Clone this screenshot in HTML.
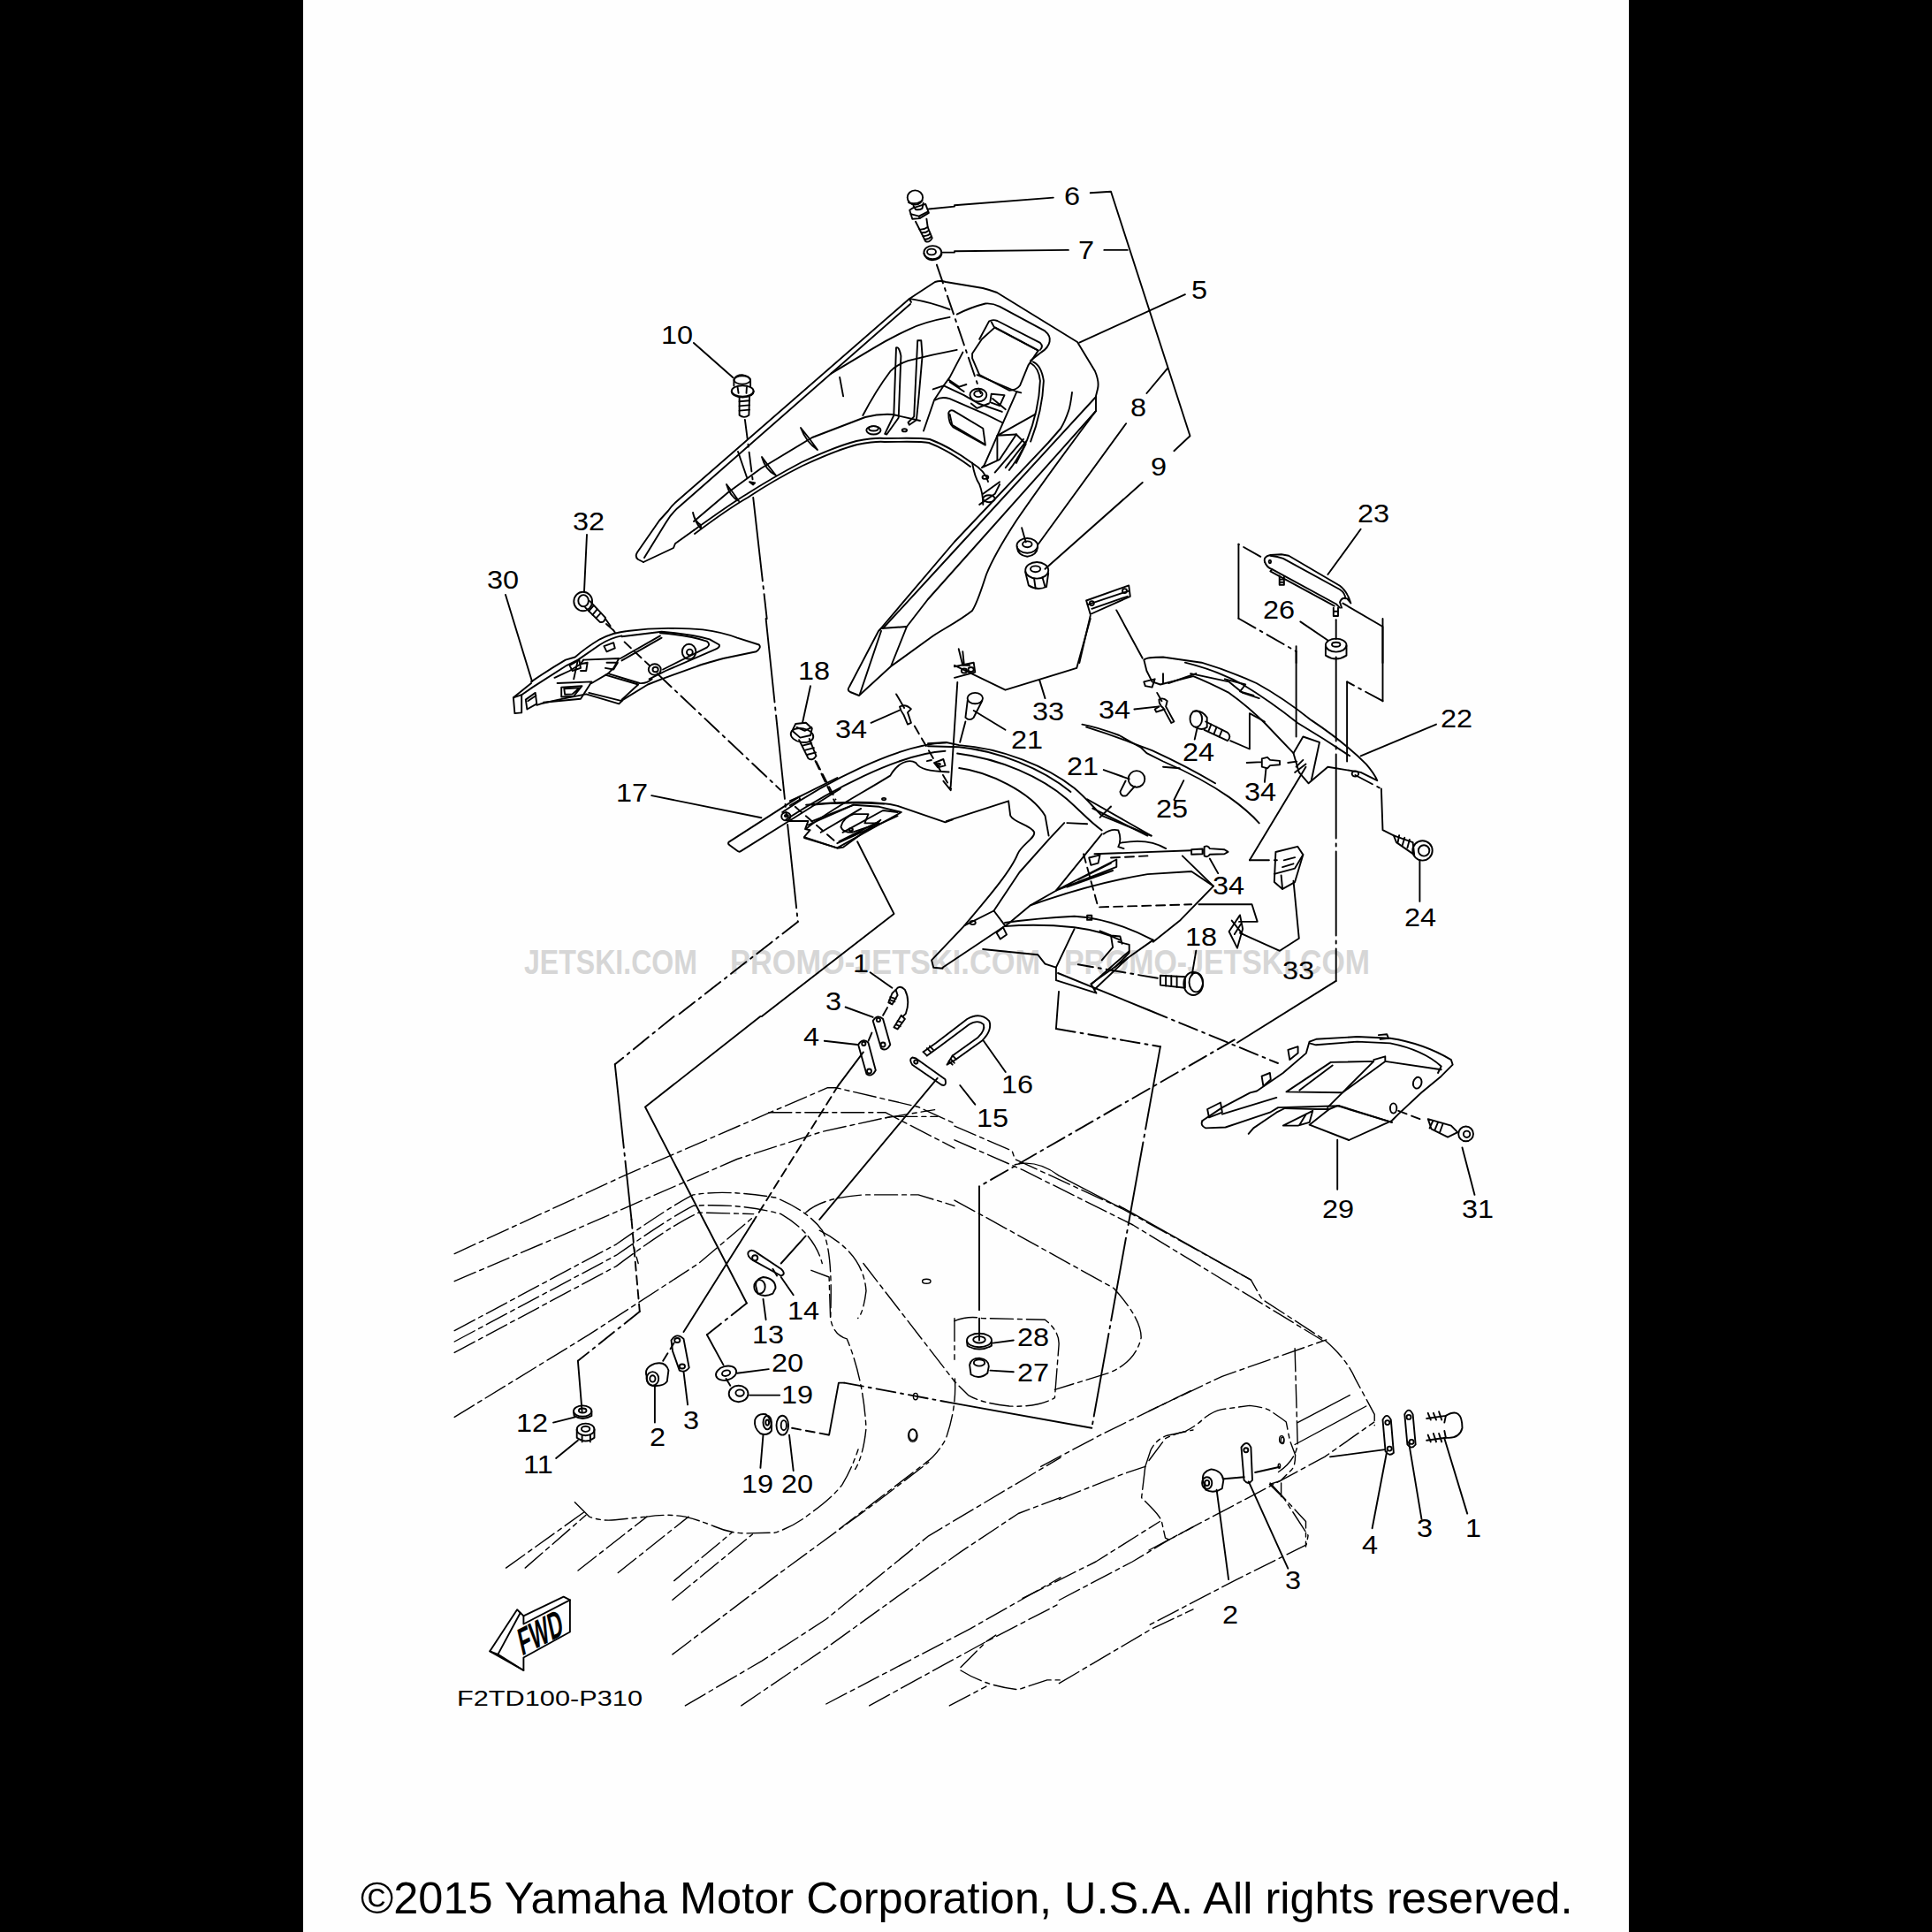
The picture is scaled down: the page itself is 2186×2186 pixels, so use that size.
<!DOCTYPE html>
<html><head><meta charset="utf-8"><style>
html,body{margin:0;padding:0;background:#000;width:2186px;height:2186px;overflow:hidden}
svg{position:absolute;left:0;top:0;display:block}
text{font-family:"Liberation Sans",sans-serif;fill:#000}
</style></head><body>
<svg width="2186" height="2186" viewBox="0 0 2186 2186">
<rect x="0" y="0" width="343" height="2186" fill="#000"/>
<rect x="343" y="0" width="1500" height="2186" fill="#fefefe"/>
<g fill="none" stroke="#000" stroke-width="1.9" stroke-linejoin="round" stroke-linecap="round">
<g stroke="none" fill="#d6d6d6" font-family="Liberation Sans" font-weight="bold">
<text x="593" y="1102" font-size="39" textLength="196" lengthAdjust="spacingAndGlyphs" style="fill:#d6d6d6">JETSKI.COM</text>
<text x="826" y="1102" font-size="39" textLength="351" lengthAdjust="spacingAndGlyphs" style="fill:#d6d6d6">PROMO-JETSKI.COM</text>
<text x="1204" y="1102" font-size="39" textLength="346" lengthAdjust="spacingAndGlyphs" style="fill:#d6d6d6">PROMO-JETSKI.COM</text>
</g>

<path d="M572,673 L602,771"/>
<path d="M664,605 L661,669"/>
<ellipse cx="659.7" cy="680.5" rx="10.4" ry="10.8" transform="rotate(0 659.7 680.5)"/>
<ellipse cx="660.1" cy="679.7" rx="5.8" ry="6.6" transform="rotate(0 660.1 679.7)"/>
<path d="M662.2 687.4L678.8 703.9Q683.9 705.0 685.0 698.8L667.4 680.1"/>
<path d="M666.3 691.5L671.5 685.3M670.5 695.7L675.7 689.4M674.6 699.2L679.8 693.6"/>
<path d="M686.0 706.0L696.4 715.3" stroke-dasharray="10 6"/>
<path d="M601.1 771.4Q621.2 757.5 639.9 746.6L650.7 743.5Q663.2 732.6 678.7 723.3Q694.2 715.5 709.8 714.0Q733.0 710.9 756.3 710.9Q779.6 710.9 795.2 712.4Q818.4 715.5 834.0 721.7L858.8 729.5Q861.9 732.6 855.7 737.3L818.4 745.0Q795.2 751.2 787.4 754.3L748.6 768.3L733.0 774.5L705.1 791.6L700.4 796.3L663.2 785.4L632.1 791.6L611.9 796.3L607.3 797.8"/>
<path d="M580.9 789.3L590.2 786.2L590.2 806.4L582.4 807.1Z"/>
<path d="M580.9 789.3L601.1 773.0M590.2 786.2L602.6 777.6L641.4 752.8Q647.6 749.7 653.9 746.6L678.7 729.5Q691.1 721.7 703.5 719.4"/>
<path d="M594.8 791.6L605.7 783.9L607.3 796.3L596.4 802.5ZM597.2 793.2L606.5 787.0"/>
<path d="M703.5 720.2L748.6 714.8Q779.6 717.1 802.9 723.3L813.8 729.5Q814.6 732.6 810.7 734.2L753.2 759.0L734.6 768.3"/>
<path d="M747.0 716.3Q779.6 718.6 799.8 725.6Q804.5 729.5 799.8 732.6L750.1 757.5"/>
<path d="M660.1 746.6L700.4 745.0L694.2 755.9L688.0 762.1L723.7 773.0Q731.5 773.8 737.7 768.3"/>
<path d="M702.0 745.0L747.0 719.4M703.5 747.4L748.6 721.7"/>
<path d="M627.5 766.8L644.5 759.0L657.0 751.2L660.1 746.6"/>
<path d="M630.6 773.0L669.4 771.4L657.0 790.8L615.0 794.7"/>
<path d="M635.2 777.6L658.5 776.1L649.2 787.7L635.2 788.5ZM638.3 779.2L655.4 778.4L647.6 785.4L639.1 785.7Z"/>
<path d="M669.4 773.0L688.0 762.1M666.3 783.9L703.5 793.2M649.2 768.3L653.9 746.6"/>
<path d="M684.9 763.7L722.2 774.5L703.5 791.6"/>
<path d="M644.5 752.8L655.4 746.6L657.0 755.9L647.6 759.0ZM683.4 731.1L694.2 727.2L695.8 733.4L686.5 737.3ZM657.0 751.2L664.7 749.7L663.2 759.0L657.0 759.0M686.5 749.7L698.9 749.7L694.2 757.5L684.9 755.9"/>
<ellipse cx="740.8" cy="757.5" rx="7.0" ry="6.2" transform="rotate(0 740.8 757.5)"/>
<ellipse cx="741.6" cy="757.5" rx="3.1" ry="2.8" transform="rotate(0 741.6 757.5)"/>
<ellipse cx="779.6" cy="737.3" rx="7.8" ry="8.5" transform="rotate(0 779.6 737.3)"/>
<ellipse cx="780.4" cy="738.0" rx="3.4" ry="3.4" transform="rotate(0 780.4 738.0)"/>
<path d="M684.9 700.0L695.8 715.5" stroke-dasharray="10 6"/>
<path d="M706.6 726.4L734.6 752.8" stroke-dasharray="10 6"/>
<!-- part 5 rear deck -->
<path d="M728,636 L722,633 Q718,630 721,625 L746,589 L756,578 Q760,572 766,567 L1029,338 L1058,319 Q1064,317 1070,319 L1112,326 Q1120,328 1128,331 L1219,387 L1239,420 Q1244,432 1242,440 L1240,448 L1240,465 C1225,485 1185,538 1150,589 C1135,612 1122,635 1116,650 C1110,668 1106,682 1100,691 C1085,703 1065,713 1055,720 L1008,754 L972,787 L962,783 Q958,781 961,777 L994,714 L997,711 L1026,709 L1008,754"/>
<path d="M729,631 L753,592 Q760,580 770,572 L1030,344"/>
<path d="M1029,338 L1031,342"/>
<path d="M728,636 L762,620 L764,615 L785,600"/>
<path d="M785,600 C810,582 830,568 845,559 C870,543 890,532 907,523 C935,510 950,504 969,499 C985,496 993,495 1000,496 C1020,496 1040,495 1052,497 C1068,503 1085,513 1100,524 C1110,530 1116,537 1118,545"/>
<path d="M786,604 C810,586 830,572 846,563 C870,547 890,536 908,527 C936,514 951,508 970,503 C986,500 994,499 1001,500 C1021,500 1041,499 1051,501 C1067,507 1083,517 1098,528"/>
<path d="M785,590 L824,557 L861,530 L919,495 L979,472 Q995,468 1010,469 L1041,476"/>
<path d="M784,580 Q786,590 793,594 L793,598 Q787,592 784,580 Z"/>
<path d="M822,548 Q826,562 836,567 Q830,558 822,548 Z"/>
<path d="M862,517 Q866,532 878,538 Q870,528 862,517 Z"/>
<path d="M906,484 Q912,500 925,509 Q916,496 906,484 Z"/>
<path d="M835,511 L845,540"/>
<path d="M1213,444 Q1211,460 1209,465 Q1205,477 1200,485 L1186,501 L1080,613 L995,713"/>
<path d="M1240,449 L1080,623 L999,711"/>
<path d="M973,785 L997,714"/>
<path d="M1240,465 L1050,678 L1026,709"/>
<path d="M940.0 422.9L987.1 394.6Q1007.3 382.5 1027.5 373.1Q1045.0 364.3 1074.6 358.9"/>
<path d="M1030.2 338.1Q1054.4 342.1 1074.6 350.2"/>
<path d="M1082.7 355.6Q1098.8 347.5 1114.9 343.5Q1123.0 342.8 1131.1 346.8L1182.2 374.4Q1189.0 379.8 1187.6 386.5Q1186.3 393.3 1178.2 398.6L1166.1 408.1"/>
<path d="M1108.2 383.8L1119.0 363.6Q1123.0 361.0 1128.4 363.0L1176.9 387.9Q1180.9 391.9 1176.9 395.9"/>
<path d="M1121.7 364.3L1125.0 370.4L1174.8 396.6"/>
<path d="M1100.1 400.0L1110.9 383.8L1125.7 370.4L1174.8 396.6L1163.4 413.4L1154.0 436.3Q1149.9 441.7 1141.9 441.7L1108.2 424.2L1100.1 405.4Z"/>
<path d="M1014.0 393.3Q1017.4 391.9 1019.4 402.7L1016.7 472.7L1003.3 491.5L1001.2 490.8L1011.3 470.0Z"/>
<path d="M1038.2 385.2L1042.3 385.2L1043.6 402.7L1039.6 448.4L1036.9 475.3L1028.8 480.7L1027.5 478.0L1034.2 471.3Z"/>
<path d="M976.3 470.0Q991.1 441.7 1007.3 420.2Q1015.4 412.1 1027.5 408.1Q1054.4 401.3 1082.7 395.9"/>
<path d="M1045.0 487.5L1057.1 452.5L1067.8 436.3L1074.6 426.9L1089.4 398.6"/>
<path d="M1055.7 440.4L1067.8 436.3L1090.7 447.1L1106.9 456.5L1133.8 465.9"/>
<path d="M1058.4 452.5Q1065.2 448.4 1074.6 451.1L1114.9 468.6L1133.8 478.0"/>
<path d="M1073.2 467.3Q1074.6 463.2 1078.6 464.6L1112.3 484.8L1114.9 503.6L1078.6 483.4Q1073.2 479.4 1073.2 467.3Z"/>
<path d="M1074.6 468.6L1077.3 480.7L1113.6 502.3"/>
<path d="M1105.5 424.2L1149.9 443.0L1155.3 444.4"/>
<path d="M1073.2 429.6L1085.3 437.7L1093.4 435.0M1074.6 432.3L1090.7 443.0M1121.7 445.7L1136.5 447.1L1131.1 459.2L1120.3 455.2ZM1123.0 451.1L1137.8 463.2M1098.8 456.5L1105.5 461.9L1119.0 456.5"/>
<path d="M1166.1 410.7Q1175.5 416.1 1176.9 430.9Q1175.5 464.6 1162.0 498.2Q1152.6 518.4 1141.9 531.9"/>
<path d="M1168.8 409.4Q1178.2 413.4 1180.9 430.9Q1179.5 464.6 1166.1 499.6"/>
<path d="M1149.9 444.4L1113.6 526.5L1110.9 529.2L1131.1 519.8L1149.9 491.5"/>
<path d="M1149.9 491.5L1160.7 502.3L1149.9 523.8"/>
<path d="M1171.5 468.6L1128.4 492.8L1128.4 521.1M1128.4 492.8L1149.9 491.5"/>
<path d="M1125.7 534.6L1158.0 496.9M1137.8 529.2L1160.7 499.6"/>
<path d="M1108.2 570.9L1125.7 558.8L1131.1 548.0M1112.3 558.8L1131.1 545.3"/>
<path d="M1100.1 523.8Q1102.8 539.9 1108.2 548.0Q1112.3 558.8 1112.3 570.9"/>
<ellipse cx="988.4" cy="486.8" rx="8.1" ry="4.7" transform="rotate(0 988.4 486.8)"/>
<ellipse cx="988.4" cy="484.8" rx="5.4" ry="2.7" transform="rotate(0 988.4 484.8)"/>
<ellipse cx="1023.4" cy="486.8" rx="2.7" ry="1.6" transform="rotate(0 1023.4 486.8)"/>
<ellipse cx="1106.9" cy="447.1" rx="9.4" ry="7.4" transform="rotate(0 1106.9 447.1)"/>
<ellipse cx="1106.9" cy="445.7" rx="4.7" ry="3.4" transform="rotate(0 1106.9 445.7)"/>
<ellipse cx="1114.9" cy="539.9" rx="3.4" ry="2.0" transform="rotate(0 1114.9 539.9)"/>
<ellipse cx="1119.0" cy="564.2" rx="6.7" ry="4.0" transform="rotate(0 1119.0 564.2)"/>
<path d="M950.1 426.9L954.1 448.4"/>
<path d="M784.9 388.0L829.4 427.3"/>
<path d="M830.4 436.6L830.4 429.4Q832.5 424.2 839.8 424.2Q848.0 425.3 849.1 430.4L849.1 437.7"/>
<ellipse cx="839.8" cy="430.0" rx="9.3" ry="4.6" transform="rotate(0 839.8 430.0)"/>
<ellipse cx="840.2" cy="442.4" rx="12.4" ry="6.2" transform="rotate(0 840.2 442.4)"/>
<path d="M827.7 442.9Q828.4 449.1 840.2 449.5Q852.2 449.1 852.8 442.9"/>
<path d="M834.6 438.3L835.6 444.9M844.9 438.3L844.5 444.9"/>
<path d="M836.6 449.1L836.6 469.8Q841.8 473.9 847.4 469.8L848.0 449.1"/>
<path d="M836.6 454.2L848.0 453.2M836.6 459.4L848.0 458.4M836.6 464.6L848.0 463.6"/>
<path d="M842.9 474.9L852.2 547.4" stroke-dasharray="22 6 3 6"/>
<path d="M852.2 562.9L867.7 700.0" stroke-dasharray="95 6 3 6"/>
<path d="M848.0 545.3L854.2 546.4L852.2 548.4Z"/>
<path d="M1080.0 232.3L1191.8 223.6"/>
<path d="M1233.7 218.3L1257.0 216.8L1346.5 493.2L1328.4 510.2"/>
<path d="M1080.0 284.2L1208.9 282.9M1249.3 282.9L1275.7 282.9"/>
<path d="M1221.3 387.6L1340.9 333.2"/>
<path d="M1274.1 479.2L1174.7 615.8M1297.4 445.0L1320.7 417.1"/>
<path d="M1292.7 546.0L1182.5 643.8"/>
<ellipse cx="1162.3" cy="617.4" rx="11.8" ry="8.4" transform="rotate(0 1162.3 617.4)"/>
<ellipse cx="1162.3" cy="615.8" rx="5.3" ry="3.4" transform="rotate(0 1162.3 615.8)"/>
<path d="M1150.8 618.9Q1151.4 628.3 1162.3 629.8Q1173.2 628.3 1174.1 618.9"/>
<path d="M1156.1 597.2L1160.7 613.4"/>
<ellipse cx="1173.2" cy="645.3" rx="13.0" ry="9.3" transform="rotate(0 1173.2 645.3)"/>
<ellipse cx="1171.6" cy="643.8" rx="5.6" ry="3.4" transform="rotate(0 1171.6 643.8)"/>
<path d="M1160.1 646.9L1163.9 662.4Q1173.2 668.6 1184.0 664.0L1186.2 648.4"/>
<path d="M1170.1 654.7L1171.6 665.5M1179.4 653.1L1182.5 664.0"/>
<path d="M1229.1 679.5L1277.2 662.4L1278.8 674.8L1233.7 695.0Z"/>
<path d="M1230.6 684.2L1277.2 668.6M1235.3 688.8L1275.7 674.8"/>
<circle cx="1235.3" cy="682.6" r="2.5"/>
<circle cx="1272.5" cy="668.6" r="2.5"/>
<path d="M1233.7 696.6L1221.3 750.0M1263.2 690.4L1292.7 744.7"/>
<path d="M1539.6 598.8L1502.4 650.0"/>
<path d="M1431.1 635.9Q1429.1 629.7 1437.3 628.0L1449.8 627.2L1458.1 628.7L1516.0 662.8Q1524.3 669.0 1528.4 682.5L1524.3 677.3Q1518.1 675.2 1516.0 681.4L1518.1 687.7"/>
<path d="M1431.1 635.9Q1433.2 642.1 1439.4 644.2L1511.9 683.5L1516.0 687.7"/>
<path d="M1439.4 644.2L1437.3 646.3L1509.8 685.6"/>
<path d="M1437.3 628.7Q1445.6 629.7 1451.8 631.8L1516.0 667.0Q1522.2 671.1 1522.2 677.3"/>
<path d="M1447.7 651.4L1447.7 661.8L1452.9 661.8L1452.9 652.5M1447.7 655.6L1452.9 655.6M1447.7 658.7L1452.9 658.7"/>
<path d="M1508.8 687.7L1508.8 697.0L1514.0 697.0L1514.0 687.7M1508.8 691.8L1514.0 691.8"/>
<ellipse cx="1436.9" cy="635.5" rx="1.2" ry="1.7" transform="rotate(0 1436.9 635.5)"/>
<path d="M1471.3 703.4L1502.4 724.5"/>
<ellipse cx="1511.7" cy="730.1" rx="11.8" ry="7.5" transform="rotate(0 1511.7 730.1)"/>
<ellipse cx="1511.7" cy="729.2" rx="4.7" ry="2.5" transform="rotate(0 1511.7 729.2)"/>
<path d="M1499.9 730.7L1499.9 741.6Q1511.7 749.4 1523.5 741.6L1523.5 730.7"/>
<path d="M1511.7 701.2L1511.7 723.0"/>
<path d="M1426.3 629.8L1401.4 615.8" stroke-dasharray="22 6 3 6"/>
<path d="M1401.4 615.8L1401.4 699.7"/>
<path d="M1401.4 699.7L1466.6 737.0" stroke-dasharray="22 6 3 6"/>
<path d="M1466.6 737.0L1466.6 750.0"/>
<path d="M1519.4 682.6L1564.5 709.0L1564.5 750.0"/>
<ellipse cx="1035.4" cy="223.5" rx="8.7" ry="8.1" transform="rotate(0 1035.4 223.5)"/>
<path d="M1028.0 229.1Q1035.4 232.2 1043.5 227.2"/>
<path d="M1033.5 232.8L1036.0 237.1Q1040.4 237.8 1043.5 235.9L1044.7 229.7"/>
<path d="M1029.2 237.8L1032.9 235.3L1047.2 230.9L1050.9 240.9L1040.4 247.1L1032.3 247.7Z"/>
<path d="M1030.4 242.1L1039.8 244.6L1049.7 239.6M1039.8 244.6L1040.4 247.1"/>
<path d="M1036.0 250.8L1040.4 259.5Q1045.3 260.1 1049.7 257.0L1048.4 247.7"/>
<path d="M1040.4 259.5L1047.2 273.2Q1051.6 275.0 1054.7 269.4L1049.7 257.0"/>
<path d="M1042.9 263.2Q1047.2 263.9 1050.9 260.7M1044.4 267.0Q1049.1 267.6 1052.5 264.5M1046.0 270.7Q1050.3 271.3 1053.7 267.6"/>
<path d="M1050.9 236.5L1080.0 233.6"/>
<ellipse cx="1055.3" cy="285.6" rx="9.9" ry="7.5" transform="rotate(0 1055.3 285.6)"/>
<ellipse cx="1054.0" cy="285.0" rx="5.0" ry="3.4" transform="rotate(0 1054.0 285.0)"/>
<path d="M1045.3 286.8Q1047.2 293.7 1054.7 294.3Q1064.0 293.7 1065.5 287.5"/>
<path d="M1065.8 285.6L1080.0 285.6"/>
<path d="M1059.9 299.6L1109.6 445.0" stroke-dasharray="22 6 3 6"/>
<path d="M917.0 776.3L908.0 817.8"/>
<path d="M896.3 826.8L900.2 819.0L911.9 817.8L918.8 824.2L917.0 832.0L905.4 834.6Z"/>
<ellipse cx="907.5" cy="832.0" rx="12.9" ry="7.8" transform="rotate(10 907.5 832.0)"/>
<path d="M901.5 822.9L910.6 826.8L918.3 822.9"/>
<path d="M904.1 837.2L914.4 857.9Q919.6 861.7 923.5 855.3L915.7 835.9"/>
<path d="M908.0 843.6L918.3 841.0M910.6 848.8L920.9 846.2M913.1 854.0L923.0 851.4"/>
<path d="M923.5 861.7L945.5 904.5" stroke-dasharray="10 6"/>
<path d="M985.6 817.8L1018.0 803.5"/>
<path d="M1014.1 785.4L1023.1 800.9"/>
<path d="M1018.0 799.6Q1024.4 795.8 1030.9 802.2L1027.0 806.1L1030.9 817.8L1027.0 819.6L1022.4 808.7Q1018.7 803.5 1018.0 799.6Z"/>
<path d="M1034.8 821.6L1076.2 892.8" stroke-dasharray="10 6"/>
<path d="M737.2 900.1L861.4 925.2"/>
<path d="M866.6 700.0L889.9 922.6" stroke-dasharray="95 6 3 6"/>
<path d="M891.1 932.9L902.8 1042.9" stroke-dasharray="95 6 3 6"/>
<path d="M902.8 1042.9L765.1 1150.1" stroke-dasharray="22 6 3 6"/>
<path d="M743.6 762.1L883.4 894.1" stroke-dasharray="22 6 3 6"/>
<path d="M970.1 952.3L1011.5 1033.9L861.9 1150.1"/>
<path d="M885.2 919.0C932.8 885.9 1015.6 842.4 1069.5 840.4"/>
<path d="M889.3 927.3C937.0 896.3 1015.6 852.8 1069.5 849.7"/>
<path d="M912.1 910.7C953.5 906.6 994.9 906.6 1015.6 911.8L1069.5 930.4L1077.7 927.3"/>
<path d="M912.1 937.7C937.0 917.0 974.2 898.3 1007.3 877.6C1015.6 863.1 1028.1 858.0 1036.3 863.1C1040.5 870.4 1050.8 872.4 1073.6 873.5"/>
<path d="M1048.8 861.1L1053.9 860.0M1057.0 863.1L1067.4 859.0L1069.5 866.2L1061.2 868.3Z"/>
<ellipse cx="1062.2" cy="864.8" rx="1.7" ry="1.2" transform="rotate(0 1062.2 864.8)"/>
<path d="M947.4 880.0L904.1 901.6L824.4 952.9Q823.3 954.6 825.5 956.3L834.7 963.1Q836.4 964.3 838.1 963.1L892.7 929.0L950.8 892.5"/>
<path d="M893.9 906.2L904.1 901.6L905.3 904.5L893.9 911.3"/>
<ellipse cx="889.3" cy="923.8" rx="5.1" ry="4.6" transform="rotate(0 889.3 923.8)"/>
<ellipse cx="889.9" cy="923.0" rx="2.0" ry="1.1" transform="rotate(0 889.9 923.0)"/>
<path d="M892.7 929.0L914.4 929.0L911.0 938.1L916.6 939.2L909.8 947.2L947.4 959.7L954.2 958.6L996.4 927.8"/>
<path d="M918.9 910.7Q950.8 907.3 1000.0 909.6"/>
<path d="M910.0 948.0L947.3 959.4L1019.8 919.0L994.9 912.8L965.9 910.7L918.3 929.4"/>
<path d="M914.2 933.5L965.9 910.7M928.7 941.8L974.2 914.9M953.5 941.8L999.1 917.0L1015.6 919.0"/>
<path d="M951.4 935.6Q953.5 925.2 965.9 921.1L982.5 921.1L978.4 931.4L994.9 931.4L963.9 941.8Q953.5 941.8 951.4 935.6Z"/>
<ellipse cx="962.8" cy="938.7" rx="2.1" ry="1.4" transform="rotate(0 962.8 938.7)"/>
<path d="M947.3 954.2L1015.6 923.2M949.4 952.2L994.9 929.4"/>
<path d="M899.7 912.8L945.2 952.2" stroke-dasharray="10 6"/>
<ellipse cx="1000.1" cy="904.1" rx="2.1" ry="1.2" transform="rotate(0 1000.1 904.1)"/>
<path d="M1083.3 772.0L1075.7 890.0"/>
<path d="M1067.4 883.8L1075.7 894.2"/>
<path d="M922.5 861.1L945.2 908.7" stroke-dasharray="10 6"/>
<path d="M984.6 1100.2L1009.4 1117.8"/>
<path d="M1013.6 1119.9Q1017.7 1113.6 1023.9 1119.9Q1030.1 1132.3 1024.9 1146.8L1021.8 1149.9"/>
<path d="M1013.6 1119.9L1015.6 1126.1L1009.4 1136.4L1005.3 1134.3L1009.4 1124.0Z"/>
<path d="M1007.3 1128.1L1013.6 1130.2M1006.3 1131.2L1012.5 1133.3"/>
<path d="M1019.8 1148.8L1023.9 1153.0L1015.6 1164.4L1011.5 1162.3ZM1015.6 1155.1L1020.8 1157.1M1013.6 1159.2L1018.7 1161.3"/>
<path d="M956.6 1139.5L987.7 1150.9"/>
<path d="M987.7 1155.1Q992.9 1146.8 999.1 1153.0L1007.3 1182.0Q1003.2 1190.2 997.0 1186.1Z"/>
<circle cx="993.9" cy="1154.0" r="2.1"/>
<circle cx="999.1" cy="1182.0" r="2.5"/>
<path d="M932.8 1177.8L970.1 1182.0"/>
<path d="M971.1 1182.0Q976.3 1173.7 982.5 1179.9L990.8 1211.0Q986.6 1219.2 980.4 1215.1Z"/>
<circle cx="977.3" cy="1180.9" r="2.1"/>
<circle cx="983.5" cy="1212.0" r="2.5"/>
<path d="M999.1 1148.8L1007.3 1134.3" stroke-dasharray="10 6"/>
<path d="M982.5 1177.8L988.7 1163.3" stroke-dasharray="10 6"/>
<path d="M1044.6 1190.2L1059.1 1179.9L1094.3 1153.0Q1108.8 1144.7 1119.2 1155.1Q1123.3 1165.4 1110.9 1177.8L1081.9 1198.5"/>
<path d="M1048.8 1194.4L1063.3 1184.0L1096.4 1159.2Q1106.7 1153.0 1112.9 1159.2Q1115.0 1165.4 1106.7 1173.7L1077.7 1194.4"/>
<path d="M1044.6 1190.2L1048.8 1194.4M1071.5 1204.7L1081.9 1198.5L1077.7 1194.4L1071.5 1204.7Z"/>
<path d="M1048.8 1186.1L1052.9 1190.2M1051.9 1183.6L1056.0 1187.8M1073.6 1200.6L1077.7 1204.7M1075.7 1198.5L1079.8 1202.7"/>
<path d="M1112.9 1177.8L1137.8 1213.0"/>
<path d="M1032.2 1196.5Q1028.1 1198.5 1032.2 1204.7L1065.3 1227.5Q1071.5 1229.6 1069.5 1221.3L1036.3 1197.5Z"/>
<circle cx="1036.3" cy="1201.6" r="2.1"/>
<path d="M1050.0 841.1L1070.7 840.0L1085.2 843.1C1132.8 846.3 1184.6 867.0 1215.6 891.8C1228.1 902.2 1236.3 912.5 1246.7 922.9L1302.6 945.6"/>
<path d="M1050.0 844.2L1085.2 845.2C1128.7 849.4 1178.4 869.0 1211.5 895.9"/>
<path d="M1083.1 852.5C1132.8 858.7 1178.4 879.4 1207.3 904.2C1226.0 920.8 1232.2 929.1 1246.7 939.4"/>
<path d="M1085.2 869.0C1118.3 873.2 1165.9 895.9 1182.5 922.9L1186.6 945.6"/>
<path d="M1230.1 904.2L1302.6 945.6M1248.8 920.8L1298.4 945.6M1236.3 914.6L1257.0 924.9"/>
<path d="M1070.7 929.1L1141.1 906.3L1143.2 922.9C1147.3 931.1 1165.9 933.2 1170.1 941.5C1172.2 947.7 1155.6 956.0 1151.4 966.3C1143.2 987.0 1112.1 1022.2 1091.4 1047.1L1054.1 1086.4L1056.2 1094.7L1066.6 1095.7"/>
<path d="M1207.3 931.1L1230.1 932.2"/>
<path d="M1204.2 931.1L1186.6 949.8L1153.5 987.0L1124.5 1030.5L1091.4 1047.1"/>
<path d="M1246.7 943.6L1194.9 1007.7L1165.9 1024.3L1141.1 1045.0L1066.6 1094.7"/>
<path d="M1124.5 1030.5L1137.0 1047.1"/>
<ellipse cx="1100.7" cy="1044.0" rx="3.1" ry="2.1" transform="rotate(0 1100.7 1044.0)"/>
<path d="M1127.6 1055.4L1134.9 1049.2L1139.0 1057.4L1131.8 1062.6Z"/>
<path d="M1194.9 1007.7L1263.3 972.5L1263.3 980.8ZM1219.8 995.3L1257.0 976.7M1207.3 1003.6L1259.1 985.0"/>
<path d="M1232.2 970.5L1244.6 967.4L1242.5 976.7L1234.3 978.8Z"/>
<path d="M1248.8 943.6Q1257.0 937.3 1265.3 939.4Q1269.5 949.8 1265.3 958.1L1271.5 960.1"/>
<path d="M1267.4 953.9Q1298.4 947.7 1319.2 960.1"/>
<path d="M1165.9 1024.3Q1236.3 999.5 1298.4 989.1L1348.1 986.0L1373.0 1002.6L1335.7 1040.9L1304.7 1065.7"/>
<path d="M1337.8 968.4L1373.0 1002.6"/>
<path d="M1257.0 970.5L1298.4 968.4" stroke-dasharray="10 6"/>
<path d="M1238.4 966.3L1348.1 962.2"/>
<path d="M1348.1 961.2L1360.6 960.5L1360.6 966.3L1348.1 966.7ZM1362.6 958.1Q1366.8 956.0 1368.8 960.1L1385.4 961.2L1389.5 963.9L1385.4 966.3L1368.8 966.7Q1366.8 970.5 1362.6 968.4Z"/>
<path d="M1368.8 971.5L1378.2 988.1"/>
<path d="M1226.0 966.3L1242.5 1026.4L1348.1 1023.3" stroke-dasharray="10 6"/>
<path d="M1356.4 1023.3L1416.5 1023.3L1422.7 1042.9L1402.0 1042.9"/>
<path d="M1137.0 1044.0Q1174.2 1038.8 1215.6 1036.7Q1257.0 1038.8 1304.7 1063.6"/>
<path d="M1137.0 1048.1Q1174.2 1045.0 1215.6 1049.2Q1246.7 1053.3 1267.4 1063.6"/>
<path d="M1112.1 1074.0L1174.2 1080.2L1182.5 1090.6L1194.9 1094.7L1194.9 1109.2L1240.5 1123.7L1234.3 1113.3L1304.7 1063.6"/>
<path d="M1215.6 1051.2L1194.9 1094.7"/>
<path d="M1244.6 1053.3L1257.0 1058.5L1259.1 1071.9L1246.7 1086.4M1265.3 1065.7L1277.7 1068.8L1277.7 1078.1L1261.2 1094.7M1257.0 1058.5L1267.4 1059.5L1269.5 1067.8"/>
<path d="M1235.3 1113.3L1277.7 1076.1M1238.4 1119.5L1275.7 1084.3"/>
<path d="M1230.1 1035.7L1235.3 1035.7L1235.3 1040.9L1230.1 1040.9Z"/>
<path d="M1248.8 871.1L1277.7 881.4"/>
<path d="M1273.6 883.5L1267.4 895.9Q1268.4 902.2 1274.6 900.1L1284.0 889.7"/>
<circle cx="1286.0" cy="881.4" r="9.3"/>
<path d="M1257.0 912.5L1244.6 924.9"/>
<path d="M1080.0 752.8L1137.5 780.7L1218.2 755.9L1233.7 700.0M1176.3 769.9L1182.5 790.1"/>
<path d="M1080.0 754.3L1101.7 749.7L1103.3 760.6L1080.0 766.8"/>
<ellipse cx="1090.9" cy="759.0" rx="3.1" ry="2.5" transform="rotate(0 1090.9 759.0)"/>
<ellipse cx="1098.6" cy="757.5" rx="3.1" ry="2.5" transform="rotate(0 1098.6 757.5)"/>
<path d="M1084.7 734.2L1089.3 752.8L1097.1 752.8M1089.3 737.3L1090.9 752.8"/>
<path d="M1137.5 825.8L1101.7 804.0"/>
<ellipse cx="1103.3" cy="790.1" rx="8.7" ry="6.2" transform="rotate(0 1103.3 790.1)"/>
<path d="M1094.9 791.6L1092.4 811.8Q1097.1 816.5 1101.7 811.8L1111.1 793.2"/>
<path d="M1092.4 816.5L1086.2 839.8"/>
<path d="M1283.4 802.5L1311.4 799.4"/>
<path d="M1309.2 783.9L1314.5 793.2M1311.4 791.6Q1316.0 788.5 1320.7 793.2L1319.1 799.4L1328.4 816.5L1325.3 818.0L1316.0 800.9Q1311.4 797.8 1311.4 791.6Z"/>
<path d="M1311.4 799.4L1306.7 802.5L1308.3 805.6L1317.6 802.5"/>
<path d="M1294.3 746.6Q1297.4 743.5 1316.0 743.5L1359.5 749.7Q1390.6 759.0 1421.6 773.0Q1452.7 790.1 1483.7 814.9Q1521.0 839.8 1545.8 864.6Q1555.2 875.5 1558.3 883.2Q1545.8 877.0 1539.6 873.9L1502.4 867.7L1480.6 886.3L1469.8 873.9L1463.5 852.2L1430.9 818.0Q1412.3 799.4 1390.6 783.9Q1365.7 771.4 1350.2 765.2L1312.9 774.5L1303.6 771.4L1297.4 759.0Z"/>
<path d="M1340.9 749.7Q1378.1 759.0 1406.1 774.5Q1437.1 793.2 1468.2 818.0Q1499.3 836.6 1527.2 855.3"/>
<path d="M1347.1 762.1L1390.6 771.4L1406.1 783.9L1424.7 790.1"/>
<path d="M1385.9 768.3L1409.2 774.5L1403.0 782.3L1418.5 787.0"/>
<path d="M1463.5 852.2L1474.4 833.5L1493.0 839.8L1483.7 883.2"/>
<path d="M1465.1 873.9L1477.5 864.6M1466.6 867.7L1474.4 859.9"/>
<path d="M1294.3 771.4L1306.7 768.3L1303.6 777.6L1295.8 776.1Z"/>
<path d="M1316.0 762.1L1316.0 773.0M1353.3 762.1L1322.2 773.0"/>
<ellipse cx="1533.4" cy="875.5" rx="3.7" ry="3.1" transform="rotate(0 1533.4 875.5)"/>
<path d="M1539.6 855.3L1625.0 819.6"/>
<ellipse cx="1353.3" cy="813.4" rx="6.8" ry="9.3" transform="rotate(0 1353.3 813.4)"/>
<path d="M1350.2 805.0Q1359.5 802.5 1365.7 811.8L1365.7 822.7Q1359.5 827.3 1352.7 822.7"/>
<path d="M1364.2 816.5L1389.0 828.9Q1393.7 833.5 1389.0 838.2L1362.6 825.8"/>
<path d="M1370.4 819.6L1367.3 827.3M1376.6 822.7L1373.5 830.4M1382.8 825.8L1379.7 833.5"/>
<path d="M1354.8 822.7L1351.7 836.6"/>
<path d="M1392.1 838.2L1413.9 847.5L1413.9 807.1L1430.9 816.5"/>
<path d="M1410.7 863.0L1427.8 862.1M1427.8 858.4L1434.0 856.8L1437.1 859.9L1448.0 860.9L1448.0 865.2L1437.1 866.1L1434.0 869.3L1427.8 867.7Z"/>
<path d="M1432.5 869.3L1430.9 884.8"/>
<path d="M1457.3 863.0L1468.2 861.5" stroke-dasharray="10 6"/>
<path d="M1511.7 743.5L1511.7 1109.9" stroke-dasharray="95 6 3 6"/>
<path d="M1511.7 1109.9L1399.9 1179.8"/>
<path d="M1466.6 731.1L1466.6 833.5"/>
<path d="M1564.5 700.0L1564.5 793.2"/>
<path d="M1564.5 793.2L1524.1 771.4" stroke-dasharray="22 6 3 6"/>
<path d="M1524.1 771.4L1524.1 861.5"/>
<path d="M1533.4 877.0L1562.9 892.5" stroke-dasharray="22 6 3 6"/>
<path d="M1562.9 892.5L1564.5 939.1L1576.9 945.3"/>
<path d="M1477.5 867.7L1413.9 973.3"/>
<path d="M1413.9 973.3L1446.5 973.3" stroke-dasharray="22 6 3 6"/>
<path d="M1443.4 964.0L1468.2 957.8L1474.4 967.1L1465.1 998.1L1451.1 1005.9L1441.8 998.1Z"/>
<path d="M1441.8 988.8L1465.1 982.6L1474.4 967.1M1449.6 990.4L1451.1 1005.9"/>
<path d="M1452.7 973.3L1465.1 970.2M1451.1 981.1L1463.5 977.3"/>
<path d="M1463.5 996.6L1469.8 1061.8L1448.0 1075.8L1403.0 1055.6"/>
<path d="M1576.9 945.3L1598.6 953.1L1600.2 967.1L1580.0 953.1Z"/>
<path d="M1583.1 945.3L1581.6 953.1M1589.3 947.8L1586.8 956.2M1594.9 950.0L1592.4 959.3"/>
<circle cx="1609.5" cy="962.4" r="11.2"/>
<circle cx="1611.1" cy="962.4" r="6.2"/>
<path d="M1606.4 973.3L1606.4 1019.9"/>
<path d="M1224.4 819.6Q1241.5 822.7 1266.3 832.0L1291.2 846.0L1297.4 852.2L1316.0 861.5Q1359.5 880.1 1390.6 901.9Q1412.3 917.4 1424.7 931.4"/>
<path d="M1229.1 822.7Q1253.9 830.4 1278.8 839.8L1303.6 849.1Q1344.0 867.7 1375.0 886.3"/>
<path d="M1316.0 867.7L1334.7 869.3"/>
<path d="M1339.3 883.2L1328.4 905.0"/>
<path d="M1353.3 1075.8L1348.6 1103.7"/>
<path d="M1312.9 1103.7L1340.9 1105.3L1340.9 1117.7L1312.9 1114.6Z"/>
<path d="M1319.1 1103.7L1319.1 1115.5M1325.3 1104.3L1325.3 1116.1M1331.6 1104.7L1331.6 1116.8"/>
<ellipse cx="1350.2" cy="1113.0" rx="10.9" ry="13.0" transform="rotate(0 1350.2 1113.0)"/>
<ellipse cx="1353.3" cy="1111.5" rx="7.8" ry="10.9" transform="rotate(0 1353.3 1111.5)"/>
<path d="M1309.8 1106.8L1219.8 1091.3" stroke-dasharray="22 6 3 6"/>
<path d="M1390.6 1054.0L1403.0 1035.4L1406.1 1050.9L1399.9 1072.7ZM1393.7 1041.6L1406.1 1057.1M1396.8 1057.1L1404.5 1044.7"/>
<path d="M1086.2 1228.0L1103.3 1249.7"/>
<path d="M1197,1101 L1300,1143" />
<path d="M1300,1143 L1446,1203" stroke-dasharray="22 6 3 6"/>
<path d="M762.6 1150.0L695.8 1204.3" stroke-dasharray="22 6 3 6"/>
<path d="M695.8 1204.3L714.5 1379.8" stroke-dasharray="95 6 3 6"/>
<path d="M714.5 1379.8L723.8 1483.9" stroke-dasharray="10 6"/>
<path d="M723.8 1483.9L653.9 1539.8" stroke-dasharray="22 6 3 6"/>
<path d="M653.9 1539.8L658.6 1597.2"/>
<path d="M860.4 1150.0L730.0 1252.5L844.9 1474.5"/>
<path d="M844.9 1474.5L799.9 1510.2" stroke-dasharray="22 6 3 6"/>
<path d="M799.9 1510.2L818.5 1544.4"/>
<path d="M976.9 1190.4L948.9 1227.6"/>
<path d="M948.9 1227.6L852.7 1381.4" stroke-dasharray="10 6"/>
<path d="M852.7 1381.4L773.5 1507.1"/>
<path d="M1060.7 1219.9L927.2 1379.8"/>
<path d="M911.7 1398.4L883.7 1429.5"/>
<ellipse cx="659.2" cy="1596.6" rx="10.2" ry="6.2" transform="rotate(0 659.2 1596.6)"/>
<ellipse cx="659.2" cy="1596.0" rx="4.3" ry="2.5" transform="rotate(0 659.2 1596.0)"/>
<path d="M648.9 1597.2L649.6 1601.9Q659.2 1608.1 669.4 1601.9L669.4 1597.2"/>
<ellipse cx="662.6" cy="1617.4" rx="9.9" ry="6.8" transform="rotate(0 662.6 1617.4)"/>
<ellipse cx="662.6" cy="1616.8" rx="4.7" ry="3.1" transform="rotate(0 662.6 1616.8)"/>
<path d="M652.7 1617.4L652.7 1626.7Q662.6 1634.5 672.5 1626.7L672.5 1617.4M658.6 1623.6L658.6 1631.4M667.9 1623.6L667.9 1631.4"/>
<path d="M626.0 1609.6L650.8 1603.4M629.1 1650.0L653.9 1629.8"/>
<path d="M731.6 1556.8Q728.4 1547.5 740.9 1542.9Q753.3 1539.8 756.4 1550.6L754.8 1563.0Q750.2 1569.3 737.8 1567.7Q731.6 1566.1 731.6 1556.8Z"/>
<ellipse cx="738.4" cy="1559.9" rx="6.8" ry="7.8" transform="rotate(0 738.4 1559.9)"/>
<ellipse cx="738.4" cy="1559.9" rx="3.1" ry="3.7" transform="rotate(0 738.4 1559.9)"/>
<path d="M740.9 1569.3L740.9 1609.6"/>
<path d="M750.2 1539.8L762.6 1519.6" stroke-dasharray="10 6"/>
<path d="M759.5 1516.5Q765.7 1507.1 773.5 1514.9L779.7 1547.5Q775.0 1553.7 768.8 1550.6L761.1 1528.9Z"/>
<ellipse cx="766.3" cy="1516.5" rx="3.1" ry="2.5" transform="rotate(0 766.3 1516.5)"/>
<ellipse cx="771.9" cy="1546.0" rx="3.1" ry="2.5" transform="rotate(0 771.9 1546.0)"/>
<path d="M773.5 1552.2L778.1 1589.4"/>
<ellipse cx="821.6" cy="1553.7" rx="11.8" ry="7.8" transform="rotate(-15 821.6 1553.7)"/>
<ellipse cx="821.6" cy="1553.7" rx="4.7" ry="3.1" transform="rotate(-15 821.6 1553.7)"/>
<path d="M821.6 1559.9L826.3 1567.7" stroke-dasharray="10 6"/>
<ellipse cx="835.6" cy="1577.0" rx="10.9" ry="9.3" transform="rotate(0 835.6 1577.0)"/>
<ellipse cx="837.1" cy="1576.1" rx="4.7" ry="3.7" transform="rotate(0 837.1 1576.1)"/>
<path d="M834.0 1553.7L869.8 1549.1M848.0 1578.6L882.2 1578.6"/>
<path d="M854.2 1606.5Q857.3 1598.8 866.6 1600.3Q874.4 1606.5 872.9 1618.9Q868.2 1625.2 860.4 1622.0Q852.7 1615.8 854.2 1606.5Z"/>
<ellipse cx="868.2" cy="1609.6" rx="4.7" ry="7.8" transform="rotate(0 868.2 1609.6)"/>
<ellipse cx="868.2" cy="1609.6" rx="1.9" ry="3.1" transform="rotate(0 868.2 1609.6)"/>
<ellipse cx="885.3" cy="1612.7" rx="6.8" ry="10.9" transform="rotate(0 885.3 1612.7)"/>
<ellipse cx="886.8" cy="1612.7" rx="3.1" ry="5.6" transform="rotate(0 886.8 1612.7)"/>
<path d="M863.5 1623.6L860.4 1660.9M893.0 1623.6L897.7 1664.0"/>
<path d="M896.1 1615.8L938.1 1623.6" stroke-dasharray="10 6"/>
<path d="M938.1 1623.6L948.9 1564.6L955.2 1564.6"/>
<path d="M955.2 1564.6L1080.0 1587.9" stroke-dasharray="22 6 3 6"/>
<path d="M846.5 1417.1Q849.6 1412.4 855.8 1417.1L883.7 1435.7Q889.9 1441.9 883.7 1443.5L852.7 1426.4Q844.9 1421.7 846.5 1417.1Z"/>
<circle cx="854.2" cy="1423.3" r="3.1"/>
<path d="M855.8 1457.5Q852.7 1448.1 863.5 1445.0Q877.5 1446.6 877.5 1457.5L874.4 1463.7Q865.1 1468.3 857.3 1463.7Z"/>
<ellipse cx="859.5" cy="1455.9" rx="6.2" ry="7.8" transform="rotate(0 859.5 1455.9)"/>
<path d="M883.7 1445.0L897.7 1465.2M863.5 1469.9L866.6 1493.2"/>
<path d="M874.4 1435.7L879.1 1443.5" stroke-dasharray="10 6"/>
<path d="M514.2 1418.6L709.8 1328.6L871.3 1258.7L936.5 1230.7L945.8 1230.7L1039.0 1252.5L1080.0 1271.1" stroke-width="1.4" stroke-dasharray="26 5 5 5"/>
<path d="M869.8 1258.7L1001.7 1258.7L1080.0 1299.1" stroke-width="1.4" stroke-dasharray="26 5 5 5"/>
<path d="M1001.7 1264.9L1057.6 1255.6" stroke-width="1.4" stroke-dasharray="26 5 5 5"/>
<path d="M514.2 1449.7L663.2 1386.0L834.0 1311.5L930.3 1280.4L1008.0 1263.4L1060.7 1263.4" stroke-width="1.4" stroke-dasharray="26 5 5 5"/>
<path d="M514.2 1505.6L697.4 1407.8Q759.5 1364.3 784.3 1351.9Q821.6 1345.7 877.5 1355.0Q914.8 1370.5 930.3 1392.2Q942.7 1414.0 939.6 1491.6" stroke-width="1.4" stroke-dasharray="26 5 5 5"/>
<path d="M514.2 1518.0L697.4 1420.2Q759.5 1376.7 784.3 1364.3Q837.1 1361.2 883.7 1373.6Q921.0 1395.3 930.3 1429.5" stroke-width="1.4" stroke-dasharray="26 5 5 5"/>
<path d="M514.2 1530.4L697.4 1432.6Q759.5 1386.0 790.6 1372.0L852.7 1373.6" stroke-width="1.4" stroke-dasharray="26 5 5 5"/>
<path d="M514.2 1603.4L666.3 1510.2L790.6 1429.5L852.7 1376.7" stroke-width="1.4" stroke-dasharray="26 5 5 5"/>
<path d="M911.7 1372.0Q930.3 1355.0 976.9 1351.9L1039.0 1351.9L1080.0 1364.3" stroke-width="1.4" stroke-dasharray="26 5 5 5"/>
<path d="M917.9 1437.3L938.1 1445.0L939.6 1491.6Q942.7 1510.2 958.3 1514.9Q976.9 1559.9 980.0 1615.8Q976.9 1646.9 967.6 1662.4" stroke-width="1.4" stroke-dasharray="26 5 5 5"/>
<path d="M927.2 1392.2Q976.9 1417.1 980.0 1460.6Q976.9 1485.4 970.7 1491.6" stroke-width="1.4" stroke-dasharray="26 5 5 5"/>
<path d="M976.9 1429.5L1080.0 1563.0" stroke-width="1.4" stroke-dasharray="26 5 5 5"/>
<ellipse cx="1048.3" cy="1449.7" rx="4.7" ry="2.5" transform="rotate(0 1048.3 1449.7)" stroke-width="1.4"/>
<ellipse cx="1032.8" cy="1623.6" rx="4.3" ry="6.2" transform="rotate(0 1032.8 1623.6)" stroke-width="1.4"/>
<ellipse cx="1035.9" cy="1580.1" rx="2.5" ry="3.7" transform="rotate(0 1035.9 1580.1)" stroke-width="1.4"/>
<path d="M716.0 1407.8L722.2 1429.5" stroke-width="1.4" stroke-dasharray="10 5"/>
<path d="M1080.0 1491.6L1080.0 1538.2" stroke-width="1.4" stroke-dasharray="26 5 5 5"/>
<path d="M1198.0 1122.0L1194.9 1164.0"/>
<path d="M1194.9 1164.0L1312.9 1184.2" stroke-dasharray="22 6 3 6"/>
<path d="M1312.9 1184.2L1235.3 1615.8" stroke-dasharray="95 6 3 6"/>
<path d="M1235.3 1615.8L1080.0 1587.9"/>
<path d="M1396.8 1176.4L1108.0 1342.5" stroke-dasharray="22 6 3 6"/>
<path d="M1108.0 1342.5L1108.0 1482.3"/>
<path d="M1108.0 1491.6L1108.0 1516.5"/>
<ellipse cx="1108.0" cy="1516.5" rx="14.0" ry="7.8" transform="rotate(0 1108.0 1516.5)"/>
<ellipse cx="1108.0" cy="1515.8" rx="6.8" ry="3.7" transform="rotate(0 1108.0 1515.8)"/>
<path d="M1094.0 1518.0L1094.6 1522.7Q1108.0 1530.4 1121.9 1522.7L1121.9 1518.0"/>
<path d="M1097.1 1544.4Q1098.6 1536.6 1108.0 1536.6Q1118.8 1538.2 1118.8 1546.0L1117.3 1553.7Q1108.0 1561.5 1098.6 1555.3Z"/>
<ellipse cx="1108.0" cy="1541.9" rx="6.2" ry="3.7" transform="rotate(0 1108.0 1541.9)"/>
<path d="M1123.5 1519.6L1146.8 1516.5M1120.4 1550.6L1146.8 1552.2"/>
<path d="M1080.0 1494.7Q1095.5 1488.5 1111.1 1491.6L1182.5 1493.2Q1199.6 1507.1 1198.0 1522.7L1193.4 1581.7Q1173.2 1592.5 1142.1 1591.0Q1111.1 1587.9 1095.5 1578.6L1080.0 1563.0" stroke-width="1.4" stroke-dasharray="26 5 5 5"/>
<path d="M1080.0 1274.2L1145.2 1302.2L1148.3 1311.5L1269.4 1367.4L1415.4 1448.1L1427.8 1469.9L1499.3 1516.5Q1524.1 1538.2 1533.4 1559.9L1555.2 1600.3L1555.2 1612.7" stroke-width="1.4" stroke-dasharray="26 5 5 5"/>
<path d="M1080.0 1289.8L1157.6 1323.9L1281.9 1386.0L1496.1 1516.5" stroke-width="1.4" stroke-dasharray="26 5 5 5"/>
<path d="M1148.3 1317.7Q1173.2 1311.5 1198.0 1330.1L1269.4 1367.4M1266.3 1364.3L1415.4 1448.1" stroke-width="1.4"/>
<path d="M1080.0 1358.1L1114.2 1376.7L1260.1 1457.5Q1291.2 1491.6 1291.2 1513.4Q1285.0 1541.3 1253.9 1553.7L1193.4 1572.4" stroke-width="1.4" stroke-dasharray="26 5 5 5"/>
<path d="M1465.1 1525.8L1468.2 1634.5Q1465.1 1653.1 1446.5 1665.5" stroke-width="1.4" stroke-dasharray="26 5 5 5"/>
<path d="M1465.1 1634.5L1545.8 1591.0M1468.2 1609.6L1527.2 1578.6" stroke-width="1.4"/>
<path d="M1437.1 1678.0L1477.5 1721.4L1477.5 1750.0" stroke-width="1.4" stroke-dasharray="26 5 5 5"/>
<ellipse cx="1451.1" cy="1629.8" rx="1.9" ry="3.7" transform="rotate(0 1451.1 1629.8)" stroke-width="1.4"/>
<path d="M1449.6 1678.0L1449.6 1693.5" stroke-width="1.4"/>
<path d="M1513.2 1289.8L1513.2 1345.7M1654.5 1298.4L1668.5 1351.9"/>
<path d="M1360.5 1268.0L1382.9 1253.1L1414.5 1236.3L1422.0 1234.5L1451.8 1214.0L1477.9 1191.6L1481.6 1178.6L1489.1 1175.8L1535.7 1173.0L1572.9 1174.8Q1610.2 1180.4 1641.9 1199.1L1643.7 1204.7L1630.7 1217.7L1608.3 1236.3L1582.2 1260.6L1574.8 1268.0L1526.3 1290.0"/>
<path d="M1360.5 1268.0Q1357.7 1273.6 1364.2 1276.4L1386.6 1275.5L1436.9 1258.7L1446.2 1253.1L1515.2 1251.2"/>
<path d="M1412.7 1282.9L1418.3 1276.4L1444.3 1258.7L1453.7 1254.0L1490.9 1255.0L1504.0 1255.0L1513.3 1251.2L1574.8 1269.9"/>
<path d="M1481.6 1180.4L1489.1 1182.3L1535.7 1178.6L1572.9 1180.4Q1610.2 1187.9 1630.7 1206.5L1627.0 1214.0"/>
<path d="M1455.5 1235.4L1505.8 1201.9L1554.3 1200.9L1518.9 1236.3ZM1470.4 1233.5L1507.7 1205.6"/>
<path d="M1567.3 1200.9L1630.7 1210.2M1554.3 1199.1L1567.3 1195.3L1567.3 1200.9L1518.9 1236.3L1502.1 1253.1"/>
<path d="M1515.2 1251.2L1574.8 1269.9M1444.3 1241.9L1382.9 1260.6"/>
<path d="M1481.6 1272.7L1526.3 1290.0M1504.0 1255.0L1481.6 1272.7"/>
<path d="M1451.8 1273.6L1485.3 1256.8L1481.6 1269.9L1468.6 1273.6ZM1470.4 1272.7L1477.9 1260.6"/>
<path d="M1366.1 1255.0L1381.0 1247.5L1382.9 1258.7L1368.0 1264.3ZM1427.6 1217.7L1436.9 1214.0L1437.8 1221.4L1429.4 1228.9ZM1457.4 1187.9L1468.6 1184.2L1468.6 1191.6L1459.3 1199.1ZM1559.9 1171.1L1569.2 1170.2L1571.1 1174.8L1561.7 1175.8"/>
<ellipse cx="1603.7" cy="1225.2" rx="4.7" ry="6.5" transform="rotate(15 1603.7 1225.2)"/>
<ellipse cx="1576.6" cy="1254.0" rx="3.7" ry="5.6" transform="rotate(0 1576.6 1254.0)"/>
<path d="M1582.2 1256.8L1606.5 1266.1" stroke-dasharray="10 6"/>
<path d="M1615.8 1266.1L1641.9 1273.6L1649.3 1281.1L1638.1 1286.6L1619.5 1277.3ZM1621.4 1268.0L1617.6 1276.4M1627.0 1269.9L1623.2 1279.2M1632.5 1271.7L1628.8 1282.0"/>
<circle cx="1658.6" cy="1282.9" r="8.4"/>
<circle cx="1659.6" cy="1283.3" r="3.7"/>
<path d="M1564.5 1606.5Q1569.1 1597.2 1573.8 1606.5L1576.9 1643.8Q1572.2 1648.4 1567.6 1642.2Z"/>
<circle cx="1569.8" cy="1609.6" r="2.5"/>
<circle cx="1572.2" cy="1639.1" r="2.5"/>
<path d="M1589.3 1600.3Q1594.0 1591.0 1598.6 1600.3L1601.7 1634.5Q1597.1 1640.7 1592.4 1634.5Z"/>
<circle cx="1594.0" cy="1603.4" r="2.5"/>
<circle cx="1597.1" cy="1631.4" r="2.5"/>
<path d="M1614.2 1605.0L1635.9 1601.9Q1654.5 1591.0 1654.5 1615.8Q1651.4 1628.3 1635.9 1626.7L1614.2 1629.8"/>
<path d="M1635.9 1601.9L1634.3 1609.6M1635.9 1626.7L1634.3 1618.9"/>
<path d="M1615.7 1598.8L1618.8 1606.5M1621.9 1598.8L1625.0 1606.5M1628.1 1597.2L1631.2 1606.5M1615.7 1623.6L1618.8 1631.4M1621.9 1622.0L1625.0 1631.4M1628.1 1622.0L1631.2 1631.4"/>
<path d="M1361.1 1674.8Q1359.5 1665.5 1370.4 1662.4Q1382.8 1664.0 1384.3 1674.8L1382.8 1684.2Q1373.5 1690.4 1364.2 1685.7Z"/>
<ellipse cx="1365.7" cy="1678.0" rx="5.6" ry="6.8" transform="rotate(0 1365.7 1678.0)"/>
<ellipse cx="1365.7" cy="1678.0" rx="2.5" ry="3.1" transform="rotate(0 1365.7 1678.0)"/>
<path d="M1404.5 1637.6Q1410.7 1628.3 1415.4 1637.6L1417.0 1674.8Q1412.3 1681.1 1407.6 1674.8Z"/>
<circle cx="1409.8" cy="1640.7" r="2.5"/>
<path d="M554.3 1868.3L585.1 1821.2L592.4 1828.4L637.7 1806.7L644.9 1810.3L644.9 1846.5L592.4 1875.5L592.4 1890.0Z"/>
<path d="M554.3 1868.3L563.4 1871.9L588.8 1824.8M563.4 1871.9L592.4 1890.0"/>
<path d="M592.4 1828.4L592.4 1837.5L644.9 1810.3"/>
<text transform="translate(590.6,1873.7) rotate(-27) skewX(-14)" font-size="41.7" font-weight="bold" stroke="none" textLength="54.3" lengthAdjust="spacingAndGlyphs">FWD</text>
<path d="M572.5 1774.1L661.2 1710.7" stroke-width="1.4" stroke-dasharray="26 5 5 5"/>
<path d="M594.2 1774.1L663.0 1714.3" stroke-width="1.4" stroke-dasharray="26 5 5 5"/>
<path d="M654.0 1777.0L731.9 1716.1" stroke-width="1.4" stroke-dasharray="26 5 5 5"/>
<path d="M699.3 1779.5L779.0 1716.1" stroke-width="1.4" stroke-dasharray="26 5 5 5"/>
<path d="M762.7 1788.6L827.9 1734.2" stroke-width="1.4" stroke-dasharray="26 5 5 5"/>
<path d="M760.9 1810.3L851.4 1736.0" stroke-width="1.4" stroke-dasharray="26 5 5 5"/>
<path d="M760.9 1871.9L880.4 1781.3L989.1 1701.6L1050.7 1654.5" stroke-width="1.4" stroke-dasharray="26 5 5 5"/>
<path d="M775.4 1929.9L862.3 1879.1L934.8 1832.0L1050.7 1737.8L1200.0 1649.1" stroke-width="1.4" stroke-dasharray="26 5 5 5"/>
<path d="M838.8 1929.9L934.8 1864.6L1025.4 1799.4L1087.0 1755.9L1152.2 1712.5L1200.0 1694.3" stroke-width="1.4" stroke-dasharray="26 5 5 5"/>
<path d="M934.8 1928.0L1097.8 1842.9L1200.0 1784.9" stroke-width="1.4" stroke-dasharray="26 5 5 5"/>
<path d="M983.7 1929.9L1115.9 1857.4L1200.0 1813.9" stroke-width="1.4" stroke-dasharray="26 5 5 5"/>
<path d="M1074.3 1929.9L1115.9 1908.1" stroke-width="1.4" stroke-dasharray="26 5 5 5"/>
<path d="M1087.0 1886.4L1115.9 1857.4L1126.8 1850.1" stroke-width="1.4" stroke-dasharray="26 5 5 5"/>
<path d="M1087.0 1890.0Q1115.9 1908.1 1152.2 1911.7L1184.8 1900.9L1200.0 1900.9" stroke-width="1.4" stroke-dasharray="26 5 5 5"/>
<path d="M650.4 1699.8L666.7 1716.1Q681.2 1721.5 695.7 1719.7L731.9 1716.1Q753.6 1712.5 775.4 1716.1Q789.9 1719.7 808.0 1727.0Q826.1 1734.9 844.2 1734.9L876.8 1734.2Q898.6 1727.0 916.7 1712.5Q942.0 1694.3 952.9 1679.9Q963.8 1661.7 971.0 1640.0" stroke-width="1.4" stroke-dasharray="26 5 5 5"/>
<path d="M1177.7 1659.4L1248.1 1622.1L1350.0 1572.4" stroke-width="1.4" stroke-dasharray="26 5 5 5"/>
<path d="M1198.4 1696.6L1270.9 1667.7L1295.8 1659.4" stroke-width="1.4" stroke-dasharray="26 5 5 5"/>
<path d="M1295.8 1659.4L1302.0 1640.7Q1308.2 1628.3 1320.6 1624.2L1350.0 1618.0" stroke-width="1.4" stroke-dasharray="26 5 5 5"/>
<path d="M1295.8 1659.4L1291.6 1694.6L1302.0 1704.9Q1312.3 1715.3 1314.4 1721.5L1318.5 1740.1L1322.7 1742.2" stroke-width="1.4" stroke-dasharray="26 5 5 5"/>
<path d="M1157.0 1808.4L1239.9 1767.0L1312.3 1721.5" stroke-width="1.4" stroke-dasharray="26 5 5 5"/>
<path d="M1198.4 1810.5L1281.3 1767.0L1322.7 1742.2L1350.0 1727.7" stroke-width="1.4" stroke-dasharray="26 5 5 5"/>
<path d="M1198.4 1904.7L1302.0 1843.6L1350.0 1820.9" stroke-width="1.4" stroke-dasharray="26 5 5 5"/>
<path d="M1080.4 1560.0Q1082.5 1593.1 1070.1 1628.3Q1059.7 1647.0 1047.3 1655.2L950.0 1729.8" stroke-width="1.4" stroke-dasharray="26 5 5 5"/>
<ellipse cx="1032.8" cy="1624.2" rx="5.2" ry="7.2" transform="rotate(0 1032.8 1624.2)" stroke-width="1.4"/>
<path d="M1300.0 1596.6L1382.8 1557.3L1500.8 1515.9" stroke-width="1.4" stroke-dasharray="26 5 5 5"/>
<path d="M1300.0 1652.5L1318.6 1627.7Q1331.1 1621.5 1341.4 1619.4Q1353.8 1613.2 1362.1 1604.9Q1372.5 1596.6 1382.8 1594.6L1413.9 1590.4Q1434.6 1592.5 1440.8 1598.7Q1453.2 1607.0 1455.3 1609.1L1459.4 1629.8L1465.6 1646.3Q1465.6 1658.8 1461.5 1662.9L1449.1 1675.3L1436.6 1679.5" stroke-width="1.4" stroke-dasharray="26 5 5 5"/>
<path d="M1436.6 1679.5L1453.2 1696.0L1480.1 1737.4L1478.1 1747.8L1399.4 1787.1L1300.0 1838.9" stroke-width="1.4" stroke-dasharray="26 5 5 5"/>
<path d="M1300.0 1754.0L1444.9 1677.4L1498.8 1648.4L1554.7 1609.1" stroke-width="1.4" stroke-dasharray="26 5 5 5"/>
<ellipse cx="1450.1" cy="1628.7" rx="2.5" ry="4.1" transform="rotate(0 1450.1 1628.7)" stroke-width="1.4"/>
<ellipse cx="1447.4" cy="1658.8" rx="1.2" ry="2.5" transform="rotate(0 1447.4 1658.8)" stroke-width="1.4"/>
<path d="M1505.0 1648.4L1567.1 1640.1"/>
<path d="M1384.9 1673.3L1407.7 1671.2M1420.1 1666.0L1448.0 1659.8"/>
<path d="M1376.6 1685.7L1390.1 1787.1M1412.8 1676.4L1457.3 1774.7M1569.2 1642.2L1552.6 1729.2M1594.0 1631.8L1608.5 1718.8M1634.4 1627.7L1660.2 1712.6"/>
<text transform="translate(551,666) scale(1.1,1)" font-size="29.5" stroke="none">30</text>
<text transform="translate(748,389) scale(1.1,1)" font-size="29.5" stroke="none">10</text>
<text transform="translate(648,600) scale(1.1,1)" font-size="29.5" stroke="none">32</text>
<text transform="translate(1204,232) scale(1.1,1)" font-size="29.5" stroke="none">6</text>
<text transform="translate(1220,293) scale(1.1,1)" font-size="29.5" stroke="none">7</text>
<text transform="translate(1348,338) scale(1.1,1)" font-size="29.5" stroke="none">5</text>
<text transform="translate(1279,471) scale(1.1,1)" font-size="29.5" stroke="none">8</text>
<text transform="translate(1302,538) scale(1.1,1)" font-size="29.5" stroke="none">9</text>
<text transform="translate(1536,591) scale(1.1,1)" font-size="29.5" stroke="none">23</text>
<text transform="translate(1429,700) scale(1.1,1)" font-size="29.5" stroke="none">26</text>
<text transform="translate(903,769) scale(1.1,1)" font-size="29.5" stroke="none">18</text>
<text transform="translate(945,835) scale(1.1,1)" font-size="29.5" stroke="none">34</text>
<text transform="translate(697,907) scale(1.1,1)" font-size="29.5" stroke="none">17</text>
<text transform="translate(965,1100) scale(1.1,1)" font-size="29.5" stroke="none">1</text>
<text transform="translate(934,1143) scale(1.1,1)" font-size="29.5" stroke="none">3</text>
<text transform="translate(909,1183) scale(1.1,1)" font-size="29.5" stroke="none">4</text>
<text transform="translate(1168,815) scale(1.1,1)" font-size="29.5" stroke="none">33</text>
<text transform="translate(1243,813) scale(1.1,1)" font-size="29.5" stroke="none">34</text>
<text transform="translate(1144,847) scale(1.1,1)" font-size="29.5" stroke="none">21</text>
<text transform="translate(1338,861) scale(1.1,1)" font-size="29.5" stroke="none">24</text>
<text transform="translate(1630,823) scale(1.1,1)" font-size="29.5" stroke="none">22</text>
<text transform="translate(1207,877) scale(1.1,1)" font-size="29.5" stroke="none">21</text>
<text transform="translate(1308,925) scale(1.1,1)" font-size="29.5" stroke="none">25</text>
<text transform="translate(1408,906) scale(1.1,1)" font-size="29.5" stroke="none">34</text>
<text transform="translate(1372,1012) scale(1.1,1)" font-size="29.5" stroke="none">34</text>
<text transform="translate(1589,1048) scale(1.1,1)" font-size="29.5" stroke="none">24</text>
<text transform="translate(1341,1070) scale(1.1,1)" font-size="29.5" stroke="none">18</text>
<text transform="translate(1451,1108) scale(1.1,1)" font-size="29.5" stroke="none">33</text>
<text transform="translate(1133,1237) scale(1.1,1)" font-size="29.5" stroke="none">16</text>
<text transform="translate(1105,1275) scale(1.1,1)" font-size="29.5" stroke="none">15</text>
<text transform="translate(891,1493) scale(1.1,1)" font-size="29.5" stroke="none">14</text>
<text transform="translate(851,1520) scale(1.1,1)" font-size="29.5" stroke="none">13</text>
<text transform="translate(873,1552) scale(1.1,1)" font-size="29.5" stroke="none">20</text>
<text transform="translate(884,1588) scale(1.1,1)" font-size="29.5" stroke="none">19</text>
<text transform="translate(584,1620) scale(1.1,1)" font-size="29.5" stroke="none">12</text>
<text transform="translate(773,1617) scale(1.1,1)" font-size="29.5" stroke="none">3</text>
<text transform="translate(735,1636) scale(1.1,1)" font-size="29.5" stroke="none">2</text>
<text transform="translate(592,1667) scale(1.1,1)" font-size="29.5" stroke="none">11</text>
<text transform="translate(839,1689) scale(1.1,1)" font-size="29.5" stroke="none">19</text>
<text transform="translate(884,1689) scale(1.1,1)" font-size="29.5" stroke="none">20</text>
<text transform="translate(1496,1378) scale(1.1,1)" font-size="29.5" stroke="none">29</text>
<text transform="translate(1654,1378) scale(1.1,1)" font-size="29.5" stroke="none">31</text>
<text transform="translate(1151,1523) scale(1.1,1)" font-size="29.5" stroke="none">28</text>
<text transform="translate(1151,1563) scale(1.1,1)" font-size="29.5" stroke="none">27</text>
<text transform="translate(1603,1739) scale(1.1,1)" font-size="29.5" stroke="none">3</text>
<text transform="translate(1383,1837) scale(1.1,1)" font-size="29.5" stroke="none">2</text>
<text transform="translate(1454,1798) scale(1.1,1)" font-size="29.5" stroke="none">3</text>
<text transform="translate(1541,1758) scale(1.1,1)" font-size="29.5" stroke="none">4</text>
<text transform="translate(1658,1739) scale(1.1,1)" font-size="29.5" stroke="none">1</text>
<text x="408" y="2165" font-size="50.5" stroke="none">©2015 Yamaha Motor Corporation, U.S.A. All rights reserved.</text>
<text x="517" y="1930" font-size="23.7" stroke="none" textLength="210" lengthAdjust="spacingAndGlyphs">F2TD100-P310</text>

</g>
</svg>
</body></html>
